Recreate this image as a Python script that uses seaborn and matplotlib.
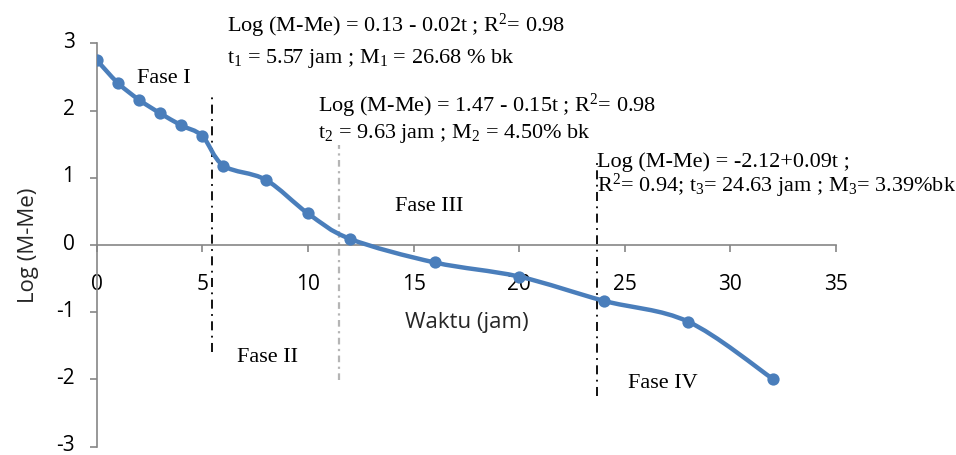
import numpy as np
import pandas as pd
import seaborn as sns
import matplotlib
matplotlib.use("Agg")
import matplotlib.pyplot as plt
from matplotlib.path import Path
from matplotlib.patches import PathPatch
from matplotlib.transforms import ScaledTranslation

# Drying time (jam) and log of free moisture content
waktu = [0, 1, 2, 3, 4, 5, 6, 8, 10, 12, 16, 20, 24, 28, 32]
log_m_me = [2.75, 2.41, 2.16, 1.96, 1.78, 1.62, 1.18, 0.97, 0.47, 0.09,
            -0.26, -0.47, -0.83, -1.14, -1.99]

# Boundaries between drying phases (jam) and the vertical extent of each marker line
phase_x = [5.46, 11.49, 23.67]
phase_top = [2.20, 1.49, 1.26]
phase_bottom = [-1.59, -2.01, -2.24]

phase_names = ["Fase I", "Fase II", "Fase III", "Fase IV"]

x_ticks = [0, 5, 10, 15, 20, 25, 30, 35]
y_ticks = [-3, -2, -1, 0, 1, 2, 3]

df = pd.DataFrame({"Waktu": waktu, "LogMMe": log_m_me})

sns.set_theme(style="white")
plt.rcParams["font.family"] = ["Open Sans", "DejaVu Sans"]
plt.rcParams["mathtext.fontset"] = "custom"
plt.rcParams["mathtext.rm"] = "Liberation Serif"
plt.rcParams["mathtext.it"] = "Liberation Serif:italic"

BLUE = "#4a7ebb"
AXIS_GREY = "#868686"

fig = plt.figure(figsize=(9.56, 4.55), dpi=100)
ax = fig.add_axes([0.1012, 0.01824, 0.7733, 0.8866])

# Smoothed connecting line (cubic Bezier segments through each point)
pts = np.column_stack([waktu, log_m_me]).astype(float)
n = len(pts)
verts = [tuple(pts[0])]
codes = [Path.MOVETO]
for i in range(n - 1):
    p_prev = pts[i - 1] if i > 0 else pts[i]
    p0, p1 = pts[i], pts[i + 1]
    p_next = pts[i + 2] if i + 2 < n else pts[i + 1]
    c1 = p0 + (p1 - p_prev) / 6.0
    c2 = p1 - (p_next - p0) / 6.0
    verts += [tuple(c1), tuple(c2), tuple(p1)]
    codes += [Path.CURVE4] * 3
ax.add_patch(PathPatch(Path(verts, codes), facecolor="none", edgecolor=BLUE,
                       lw=3.2, capstyle="round", joinstyle="round", zorder=3))

sns.scatterplot(data=df, x="Waktu", y="LogMMe", ax=ax, color=BLUE, s=78,
                edgecolor=BLUE, linewidth=0, zorder=4, legend=False)

# Phase boundary lines
styles = [dict(color="black", lw=1.3, ls=(0, (5, 3, 1, 3))),
          dict(color="#b5b5b5", lw=1.6, ls=(0, (3, 2, 1, 2))),
          dict(color="black", lw=1.3, ls=(0, (5, 3, 1, 3)))]
for xv, top, bot, st in zip(phase_x, phase_top, phase_bottom, styles):
    ax.plot([xv, xv], [bot, top], zorder=2, **st)

ax.set_xlim(0, 35)
ax.set_ylim(-3, 3)
ax.set_xticks(x_ticks)
ax.set_yticks(y_ticks)
ax.set_xticklabels([str(t) for t in x_ticks])
ax.set_yticklabels([str(t) for t in y_ticks])

for side in ["top", "right"]:
    ax.spines[side].set_visible(False)
ax.spines["bottom"].set_position(("data", 0))
for side in ["left", "bottom"]:
    ax.spines[side].set_color(AXIS_GREY)
    ax.spines[side].set_linewidth(1.2)

ax.tick_params(axis="x", direction="out", length=5, width=1.2, color=AXIS_GREY,
               pad=16, labelsize=15, labelcolor="black", bottom=True)
ax.tick_params(axis="y", direction="out", length=5, width=1.2, color=AXIS_GREY,
               pad=11, labelsize=15, labelcolor="black", left=True)

# lift the y tick labels a touch so they sit centred on their ticks
lift = ScaledTranslation(0, 2.5 / 72, fig.dpi_scale_trans)
for lab in ax.get_yticklabels():
    lab.set_transform(lab.get_transform() + lift)

ax.set_xlabel("Waktu (jam)", fontsize=16, labelpad=12)
ax.set_ylabel("Log (M-Me)", fontsize=16, labelpad=12)
ax.set_facecolor("white")
fig.patch.set_facecolor("white")

serif = dict(family="Liberation Serif", fontsize=16, color="black", va="baseline", ha="left")

ax.text(6.17, 3.17, "Log (M-Me) = 0.13 - 0.02t ; R$^{2}$= 0.98", **serif)
ax.text(6.17, 2.71, "t$_{1}$ = 5.57 jam ; M$_{1}$ = 26.68 % bk", **serif)
ax.text(10.49, 1.98, "Log (M-Me) = 1.47 - 0.15t ; R$^{2}$= 0.98", **serif)
ax.text(10.49, 1.59, "t$_{2}$ = 9.63 jam ; M$_{2}$ = 4.50% bk", **serif)
ax.text(23.67, 1.165, "Log (M-Me) = -2.12+0.09t ;", **serif)
ax.text(23.67, 0.79, "R$^{2}$= 0.94; t$_{3}$= 24.63 jam ; M$_{3}$= 3.39%bk", **serif)

ax.text(1.89, 2.41, phase_names[0], **serif)
ax.text(6.66, -1.74, phase_names[1], **serif)
ax.text(14.12, 0.50, phase_names[2], **serif)
ax.text(25.17, -2.12, phase_names[3], **serif)

fig.savefig("out.png", dpi=100)
